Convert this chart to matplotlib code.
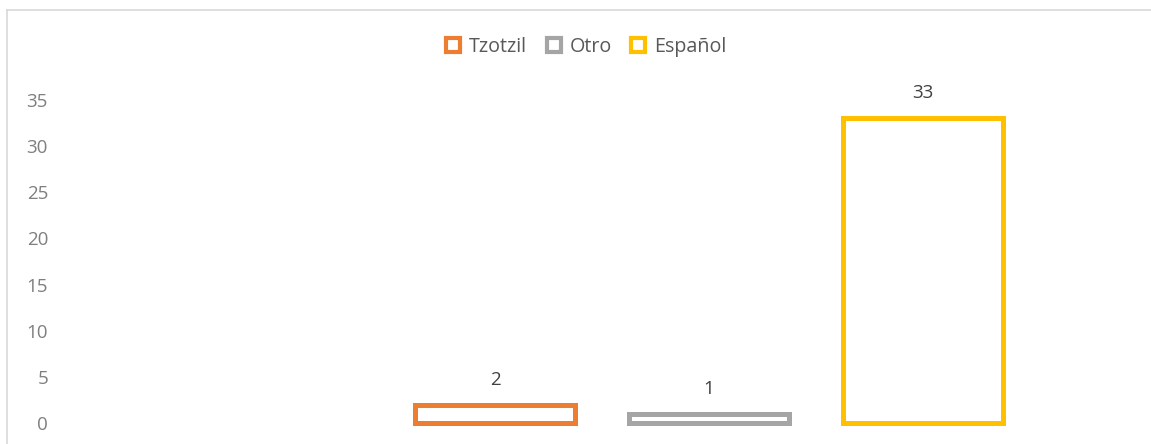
import matplotlib
matplotlib.use("Agg")
import matplotlib.pyplot as plt
from matplotlib.lines import Line2D

# lengua materna de los alumnos
languages = ["Tzotzil", "Otro", "Español"]
counts = [2, 1, 33]
colors = ["#ED7D31", "#A5A5A5", "#FFC000"]
yticks = [0, 5, 10, 15, 20, 25, 30, 35]

plt.rcParams['font.family'] = ['Open Sans', 'DejaVu Sans']

W, H = 1151, 444
fig = plt.figure(figsize=(W / 100, H / 100), dpi=100)
ax_left = 55
ax = fig.add_axes([ax_left / W, 0, 1 - ax_left / W, 1])

px_per_unit = (423 - 100) / 35.0
ax.set_ylim(-(H - 423) / px_per_unit, 423 / px_per_unit)
ax.set_xlim(1 - (495 - ax_left) / 214.0, 1 + (W - 495) / 214.0)

xpos = [1, 2, 3]
ax.bar(xpos, counts, width=0.743, facecolor="white", edgecolor=colors,
       linewidth=3.6)

for x, v in zip(xpos, counts):
    ax.annotate(str(v), (x, v), xytext=(0, 18), textcoords="offset points",
                ha="center", va="center", fontsize=13.5, color="#404040")

ax.set_yticks(yticks)
ax.set_yticklabels([str(t) for t in yticks], fontsize=13.5, color="#7F7F7F")
ax.tick_params(axis="y", length=0, pad=5)
ax.set_xticks([])
for s in ax.spines.values():
    s.set_visible(False)

handles = [Line2D([], [], linestyle="none", marker="s", markersize=10,
                  markerfacecolor="white", markeredgecolor=c,
                  markeredgewidth=3.0) for c in colors]
fig.legend(handles, languages, loc="center", bbox_to_anchor=(585 / W, 1 - 47 / H),
           ncol=3, frameon=False, fontsize=14.2, labelcolor="#595959",
           handletextpad=0.3, columnspacing=0.85, handlelength=1.0)

# marco del gráfico
fig.add_artist(Line2D([7.5 / W, 1], [1 - 10 / H, 1 - 10 / H], color="#D9D9D9",
                      linewidth=1.2, transform=fig.transFigure))
fig.add_artist(Line2D([7.5 / W, 7.5 / W], [0, 1 - 10 / H], color="#D9D9D9",
                      linewidth=1.2, transform=fig.transFigure))

fig.savefig("out.png", dpi=100)
